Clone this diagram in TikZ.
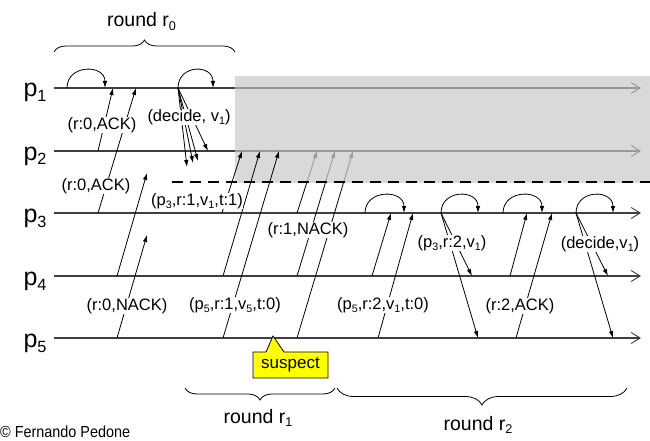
\documentclass[tikz,border=0pt]{standalone}
\usepackage{fontspec}
\setmainfont{Liberation Sans}
\newfontfamily\narrowfont[FakeStretch=0.9]{Liberation Sans}
\usepackage{graphicx}
\usetikzlibrary{arrows.meta,decorations.pathreplacing,calc}
\newcommand\sbs[1]{\raisebox{-0.2em}{\scalebox{0.65}{#1}}}
\definecolor{boxgray}{HTML}{D9D9D9}
\definecolor{ghost}{HTML}{999999}
\definecolor{pline}{HTML}{3F3F3F}
\definecolor{note}{HTML}{FFFF00}
\begin{document}
\begin{tikzpicture}[x=1pt,y=-1pt,
  proc/.style={line width=1.3pt,draw=pline},
  procarrow/.style={-{Straight Barb[length=9pt,width=11pt,line width=0.9pt]}},
  msg/.style={line width=0.8pt,-{Latex[length=7pt,width=4.5pt]}},
  selfloop/.style={line width=0.8pt,-{Latex[length=7pt,width=4.5pt]}},
  lbl/.style={fill=white,inner sep=0.6pt,font=\fontsize{16.5}{18}\selectfont},
  plabel/.style={font=\fontsize{25}{28}\selectfont,anchor=base,inner sep=0pt},
  title/.style={font=\fontsize{19.5}{22}\selectfont,anchor=base,inner sep=0pt},
  bracestyle/.style={line width=0.8pt,decorate},
]
\useasboundingbox (0,0) rectangle (650,441);
\fill[boxgray] (235,76) rectangle (650,183);

% process lines
\foreach \i/\yy in {1/88,2/151,3/213,4/276,5/338} {
  \coordinate (s\i) at (54,\yy);
  \coordinate (e\i) at (641,\yy);
  \node[plabel] (P\i) at (35,\yy+9) {p\sbs{\i}};
}
\coordinate (g1) at (235,88);
\coordinate (g2) at (235,151);
\draw[proc] (s1) -- (g1);
\draw[proc,draw=ghost,procarrow] (g1) -- (e1);
\draw[proc] (s2) -- (g2);
\draw[proc,draw=ghost,procarrow] (g2) -- (e2);
\draw[proc,procarrow] (s3) -- (e3);
\draw[proc,procarrow] (s4) -- (e4);
\draw[proc,procarrow] (s5) -- (e5);

% round 0
\coordinate (a1) at (98,151);  \coordinate (b1) at (113,88);
\coordinate (a2) at (98,213);  \coordinate (b2) at (136,88);
\coordinate (a3) at (117,276); \coordinate (b3) at (147,173);
\coordinate (a4) at (117,338); \coordinate (b4) at (147,235);
\draw[msg] (a1) -- (b1);
\draw[msg] (a2) -- (b2);
\draw[msg] (a3) -- (b3);
\draw[msg] (a4) -- (b4);

\coordinate (l1a) at (67,88);  \coordinate (l1b) at (105,88);
\coordinate (l2a) at (178,88); \coordinate (l2b) at (213,88);
\draw[selfloop] (l1a) .. controls +(0,-24) and +(0,-24) .. (l1b);
\draw[selfloop] (l2a) .. controls +(0,-24) and +(0,-24) .. (l2b);

\coordinate (d1) at (187,167);
\coordinate (d2) at (193,163);
\coordinate (d3) at (198,161);
\coordinate (d4) at (208,151);
\foreach \k in {1,2,3,4} { \draw[msg] (l2a) -- (d\k); }

% round 1
\coordinate (c1) at (222,213); \coordinate (f1) at (242,151);
\coordinate (c2) at (223,276); \coordinate (f2) at (260,151);
\coordinate (c3) at (223,338); \coordinate (f3) at (279,151);
\draw[msg] (c1) -- (f1);
\draw[msg] (c2) -- (f2);
\draw[msg] (c3) -- (f3);

\coordinate (h1) at (297,213); \coordinate (k1) at (317,151);
\coordinate (h2) at (297,276); \coordinate (k2) at (335,151);
\coordinate (h3) at (297,338); \coordinate (k3) at (353,151);
\coordinate (j1) at ($(h1)!{31/62}!(k1)$);
\coordinate (j2) at ($(h2)!{94/125}!(k2)$);
\coordinate (j3) at ($(h3)!{156/187}!(k3)$);
\foreach \k in {1,2,3} {
  \draw[line width=0.8pt] (h\k) -- (j\k);
  \draw[msg,draw=ghost,fill=ghost] (j\k) -- (k\k);
}

\coordinate (dl0) at (172,182); \coordinate (dl1) at (650,182);
\draw[line width=2.6pt,dash pattern=on 11pt off 7pt] (dl0) -- (dl1);

% round 2
\foreach \k/\xa/\xb in {3/365/404,4/441/478,5/503/542,6/576/613} {
  \coordinate (l\k a) at (\xa,213); \coordinate (l\k b) at (\xb,213);
  \draw[selfloop] (l\k a) .. controls +(0,-24) and +(0,-24) .. (l\k b);
}
\coordinate (q1) at (372,276); \coordinate (r1) at (391,213);
\coordinate (q2) at (378,338); \coordinate (r2) at (413,213);
\coordinate (r3) at (472,276); \coordinate (r4) at (478,338);
\coordinate (q5) at (510,276); \coordinate (r5) at (527,213);
\coordinate (q6) at (516,338); \coordinate (r6) at (552,213);
\coordinate (r7) at (608,276); \coordinate (r8) at (613,338);
\draw[msg] (q1) -- (r1);
\draw[msg] (q2) -- (r2);
\draw[msg] (l4a) -- (r3);
\draw[msg] (l4a) -- (r4);
\draw[msg] (q5) -- (r5);
\draw[msg] (q6) -- (r6);
\draw[msg] (l6a) -- (r7);
\draw[msg] (l6a) -- (r8);

% labels
\node[lbl] (L1) at (102,125) {(r:0,ACK)};
\node[lbl] (L2) at (96,186) {(r:0,ACK)};
\node[lbl] (L3) at (127,306) {(r:0,NACK)};
\node[lbl] (L4) at (189,117) {(decide, v\sbs{1})};
\node[lbl] (L5) at (197,201) {(p\sbs{3},r:1,v\sbs{1},t:1)};
\node[lbl] (L6) at (235,305) {(p\sbs{5},r:1,v\sbs{5},t:0)};
\node[lbl] (L7) at (308,230) {(r:1,NACK)};
\node[lbl] (L8) at (383,305) {(p\sbs{5},r:2,v\sbs{1},t:0)};
\node[lbl] (L9) at (452,243) {(p\sbs{3},r:2,v\sbs{1})};
\node[lbl] (L10) at (520,306) {(r:2,ACK)};
\node[lbl] (L11) at (600,244) {(decide,v\sbs{1})};

% suspect callout
\draw[fill=note,line width=0.8pt] (253,352) -- (266,352) -- (273,336) -- (284,352) -- (328,352) -- (328,378) -- (253,378) -- cycle;
\node[font=\fontsize{17}{19}\selectfont,inner sep=0pt] (S) at (290.5,365) {suspect};

% braces
\coordinate (br0a) at (54,52);  \coordinate (br0b) at (235,52);
\coordinate (br1a) at (185,388); \coordinate (br1b) at (335,388);
\coordinate (br2a) at (337,388); \coordinate (br2b) at (627,388);
\draw[bracestyle,decoration={brace,amplitude=12pt}] (br0a) -- (br0b);
\draw[bracestyle,decoration={brace,mirror,amplitude=12pt}] (br1a) -- (br1b);
\draw[bracestyle,decoration={brace,mirror,amplitude=17pt}] (br2a) -- (br2b);

\node[title] (T0) at (141.5,27) {round r\sbs{0}};
\node[title] (T1) at (258,423) {round r\sbs{1}};
\node[title] (T2) at (478,430) {round r\sbs{2}};
\node[font=\narrowfont\fontsize{16}{18}\selectfont,anchor=base west,inner sep=0pt] (C) at (0,437) {© Fernando Pedone};
\end{tikzpicture}
\end{document}
